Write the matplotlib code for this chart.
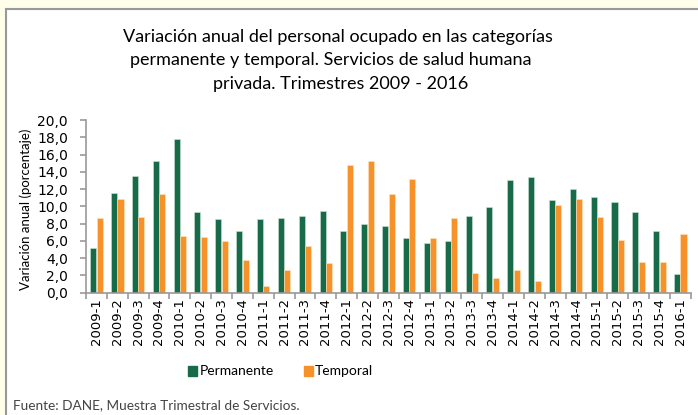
import matplotlib.pyplot as plt
from matplotlib.patches import Rectangle
import numpy as np

periodos = ["2009-1", "2009-2", "2009-3", "2009-4", "2010-1", "2010-2", "2010-3", "2010-4",
            "2011-1", "2011-2", "2011-3", "2011-4", "2012-1", "2012-2", "2012-3", "2012-4",
            "2013-1", "2013-2", "2013-3", "2013-4", "2014-1", "2014-2", "2014-3", "2014-4",
            "2015-1", "2015-2", "2015-3", "2015-4", "2016-1"]
permanente = [5.2, 11.5, 13.5, 15.2, 17.8, 9.4, 8.5, 7.2,
              8.5, 8.6, 8.9, 9.5, 7.1, 8.0, 7.7, 6.3,
              5.8, 6.0, 8.9, 9.9, 13.1, 13.4, 10.7, 12.0,
              11.1, 10.5, 9.3, 7.2, 2.2]
temporal = [8.6, 10.9, 8.8, 11.4, 6.6, 6.5, 6.0, 3.8,
            0.8, 2.6, 5.4, 3.4, 14.8, 15.3, 11.4, 13.2,
            6.3, 8.7, 2.3, 1.7, 2.6, 1.4, 10.2, 10.9,
            8.8, 6.1, 3.5, 3.5, 6.8]

verde = "#186b49"
naranja = "#f7922a"
gris = "#999999"

fig = plt.figure(figsize=(6.98, 4.15), dpi=100)
fig.patch.set_facecolor("#fefeea")
# recuadro blanco con borde gris
fig.patches.append(Rectangle((6 / 698, -0.1), 1.2, 1 - 9.5 / 415 + 0.1, transform=fig.transFigure,
                             facecolor="white", edgecolor=gris, linewidth=1.5, zorder=-5))

ax = fig.add_axes([86 / 698, 1 - 292.7 / 415, (690.7 - 86) / 698, (292.7 - 120) / 415])
ax.set_facecolor("none")

x = np.arange(len(periodos))
w = 0.29
ax.bar(x - w / 2 - 0.01, permanente, w, color=verde, edgecolor="#cfe3d8", linewidth=0.4)
ax.bar(x + w / 2 + 0.01, temporal, w, color=naranja, edgecolor="#fde3c4", linewidth=0.4)

ax.set_xlim(-0.5, len(periodos) - 0.5)
ax.set_ylim(0, 20)
ax.set_yticks(np.arange(0, 21, 2))
ax.set_yticklabels([f"{v:.1f}".replace(".", ",") for v in np.arange(0, 21, 2)],
                   fontsize=10, family="DejaVu Sans")
ax.set_xticks(x)
ax.set_xticklabels(periodos, rotation=90, fontsize=9.5, family="DejaVu Sans")
ax.set_xticks(np.arange(-0.5, len(periodos)), minor=True)
ax.tick_params(axis="x", which="major", length=0, pad=4)
ax.tick_params(axis="x", which="minor", length=4, color=gris, width=1.2)
ax.tick_params(axis="y", length=4, color=gris, width=1.2, pad=9)

for s in ["top", "right"]:
    ax.spines[s].set_visible(False)
for s in ["left", "bottom"]:
    ax.spines[s].set_color(gris)
    ax.spines[s].set_linewidth(1.2)

fig.text(26 / 698, 1 - 209 / 415, "Variación anual (porcentaje)", rotation=90,
         ha="center", va="center", family="Lato", fontsize=9.5)

fig.text(338 / 698, 1 - 37 / 415, "Variación anual del personal ocupado en las categorías",
         ha="center", va="center", family="Lato", fontsize=13)
fig.text(331 / 698, 1 - 60 / 415, "permanente y temporal. Servicios de salud humana",
         ha="center", va="center", family="Lato", fontsize=13)
fig.text(341 / 698, 1 - 84 / 415, "privada. Trimestres 2009 - 2016",
         ha="center", va="center", family="Lato", fontsize=13)

fig.patches.append(Rectangle((188 / 698, 1 - 376 / 415), 9 / 698, 10 / 415,
                             transform=fig.transFigure, color=verde))
fig.text(200 / 698, 1 - 371 / 415, "Permanente", va="center", family="Lato", fontsize=10)
fig.patches.append(Rectangle((304 / 698, 1 - 376 / 415), 9 / 698, 10 / 415,
                             transform=fig.transFigure, color=naranja))
fig.text(315 / 698, 1 - 371 / 415, "Temporal", va="center", family="Lato", fontsize=10)

fig.text(13 / 698, 1 - 405 / 415, "Fuente: DANE, Muestra Trimestral de Servicios.",
         va="center", family="Lato", fontsize=9.8, color="#444444")

fig.savefig("out.png", dpi=100, facecolor=fig.get_facecolor())
